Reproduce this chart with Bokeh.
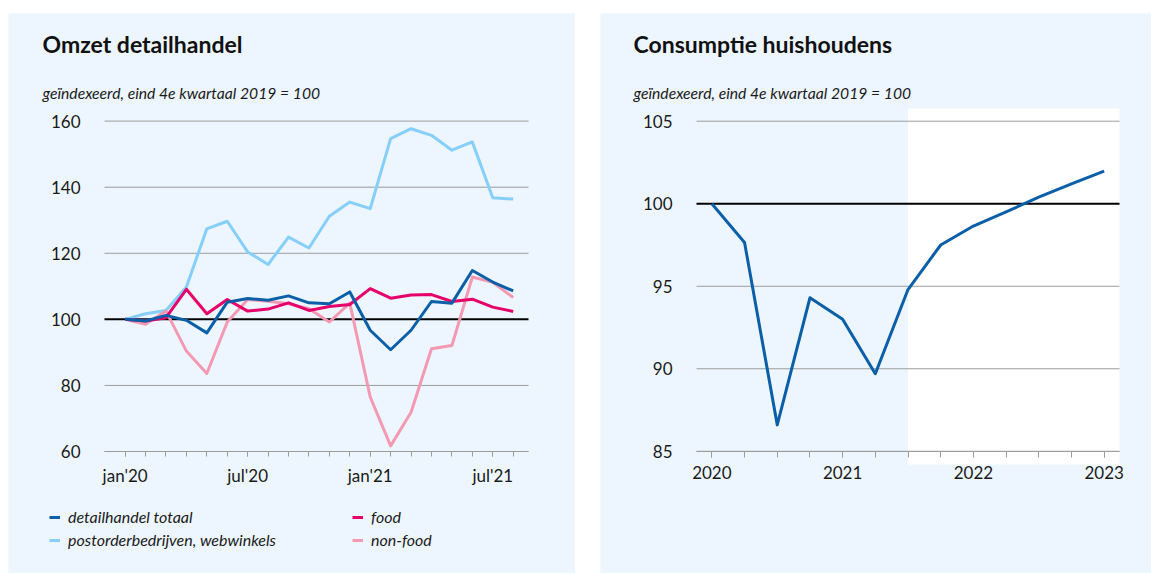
from bokeh.plotting import figure
from bokeh.models import (BoxAnnotation, Label, Legend, LegendItem, LinearAxis,
                          FixedTicker, Range1d)
from bokeh.layouts import row
from bokeh.embed import file_html
from bokeh.resources import INLINE

# ---------------- data: Omzet detailhandel (monthly, jan'20 .. aug'21) ----------------
months = ["jan'20", "feb'20", "mrt'20", "apr'20", "mei'20", "jun'20", "jul'20", "aug'20",
          "sep'20", "okt'20", "nov'20", "dec'20", "jan'21", "feb'21", "mrt'21", "apr'21",
          "mei'21", "jun'21", "jul'21", "aug'21"]
month_tick_labels = {0: "jan'20", 6: "jul'20", 12: "jan'21", 18: "jul'21"}

detailhandel_totaal = [100, 99.5, 101.2, 99.7, 95.9, 105.2, 106.3, 105.8, 107.1, 105.0,
                       104.7, 108.3, 96.7, 90.8, 96.7, 105.4, 104.9, 114.8, 111.3, 108.6]
postorder_webwinkels = [100, 101.7, 102.7, 109.8, 127.4, 129.7, 120.4, 116.6, 124.9, 121.6,
                        131.2, 135.5, 133.5, 154.7, 157.7, 155.7, 151.2, 153.7, 136.8, 136.4]
food = [100, 99.5, 100.5, 109.1, 101.7, 106.0, 102.5, 103.1, 105.0, 102.7,
        103.9, 104.5, 109.3, 106.4, 107.4, 107.5, 105.4, 106.1, 103.7, 102.4]
non_food = [100, 98.5, 102.5, 90.4, 83.6, 99.2, 106.0, 105.5, 104.7, 103.2,
            99.2, 104.9, 76.5, 61.7, 71.9, 91.1, 92.1, 112.8, 111.2, 106.6]
left_y_ticks = [60, 80, 100, 120, 140, 160]

# ---------------- data: Consumptie huishoudens (quarterly, 2020K1 .. 2023K1) ----------------
quarters = ["2020K1", "2020K2", "2020K3", "2020K4", "2021K1", "2021K2", "2021K3",
            "2021K4", "2022K1", "2022K2", "2022K3", "2022K4", "2023K1"]
quarter_tick_labels = {0: "2020", 4: "2021", 8: "2022", 12: "2023"}
consumptie = [100, 97.65, 86.6, 94.3, 93.0, 89.7, 94.8, 97.5, 98.65, 99.5, 100.4, 101.2, 101.97]
forecast_start = 6  # first projected quarter (white background from here)
right_y_ticks = [85, 90, 95, 100, 105]
baseline = 100

# ---------------- styling ----------------
BG = "#EDF6FE"
GRID = "#9C9C9C"
TEXT = "#1A1A1A"
FONT = "Lato"
C_TOT = "#0B5FA8"
C_POST = "#86CFFA"
C_FOOD = "#E5006A"
C_NONF = "#F39AB2"
TICK_FS = "17px"


def make_fig(width, height, xlo, xhi, ylo, yhi, left, right, top, bottom):
    """Figure whose frame is the whole canvas; the plot area (xlo..xhi, ylo..yhi)
    sits `left/right/top/bottom` px from the canvas edges."""
    ppx = (width - left - right) / (xhi - xlo)
    ppy = (height - top - bottom) / (yhi - ylo)
    xr = Range1d(xlo - left / ppx, xhi + right / ppx)
    yr = Range1d(ylo - bottom / ppy, yhi + top / ppy)
    p = figure(width=width, height=height, output_backend="svg", toolbar_location=None,
               x_range=xr, y_range=yr, x_axis_location=None, y_axis_location=None,
               min_border=0, background_fill_color=BG, border_fill_color=BG,
               outline_line_color=None)
    if p.title is not None:
        p.title.visible = False
    p.grid.visible = False
    return p


def add_axes(p, xlo, xhi, ylo, yticks, xmajor, xminor, xlabels, tick_len, standoff):
    ya = LinearAxis(fixed_location=xlo, ticker=FixedTicker(ticks=yticks),
                    axis_line_color=None, major_tick_line_color=None,
                    minor_tick_line_color=None, major_tick_out=0, major_tick_in=0,
                    major_label_standoff=24, major_label_text_font=FONT,
                    major_label_text_font_size=TICK_FS, major_label_text_color=TEXT)
    p.add_layout(ya, "left")
    xa = LinearAxis(fixed_location=ylo, bounds=(xlo, xhi),
                    ticker=FixedTicker(ticks=xmajor, minor_ticks=xminor),
                    major_label_overrides=xlabels,
                    axis_line_color=GRID, axis_line_width=1,
                    major_tick_line_color=GRID, minor_tick_line_color=GRID,
                    major_tick_in=0, minor_tick_in=0,
                    major_tick_out=tick_len, minor_tick_out=tick_len,
                    major_label_standoff=standoff, major_label_text_font=FONT,
                    major_label_text_font_size=TICK_FS, major_label_text_color=TEXT)
    p.add_layout(xa, "below")


def add_gridlines(p, xlo, xhi, yticks):
    grid_y = [t for t in yticks if t != baseline]
    p.segment(x0=xlo, x1=xhi, y0=grid_y, y1=grid_y, line_color=GRID, line_width=1)
    p.segment(x0=xlo, x1=xhi, y0=baseline, y1=baseline, line_color="#000000", line_width=2)


def add_titles(p, x, y_title, y_sub, title):
    p.add_layout(Label(x=x, y=y_title, x_units="screen", y_units="screen", text=title,
                       text_font=FONT, text_font_size="23px", text_font_style="bold",
                       text_color="#111111", text_baseline="middle"))
    p.add_layout(Label(x=x, y=y_sub, x_units="screen", y_units="screen",
                       text="geïndexeerd, eind 4e kwartaal 2019 = 100",
                       text_font=FONT, text_font_size="15.7px", text_font_style="italic",
                       text_color=TEXT, text_baseline="middle"))


def make_legend(items, loc):
    return Legend(items=items, location=loc, orientation="vertical",
                  padding=0, margin=0, border_line_color=None, background_fill_alpha=0,
                  glyph_width=11, glyph_height=18, label_height=18, spacing=4,
                  label_standoff=8, label_text_font=FONT, label_text_font_size="16px",
                  label_text_font_style="italic", label_text_color=TEXT)


# ---------------- left chart ----------------
mx = list(range(len(months)))
LX0, LX1, LY0, LY1 = -1.01, 19.75, 60, 161.7
p1 = make_fig(567, 560, LX0, LX1, LY0, LY1, 96, 47, 102, 122)
p1.margin = (13, 25, 0, 8)
add_gridlines(p1, LX0, LX1, left_y_ticks)
add_axes(p1, LX0, LX1, LY0, left_y_ticks, list(month_tick_labels.keys()), mx,
         month_tick_labels, 5, 8)

r_post = p1.line(mx, postorder_webwinkels, line_color=C_POST, line_width=3, line_join="round")
r_nonf = p1.line(mx, non_food, line_color=C_NONF, line_width=3, line_join="round")
r_food = p1.line(mx, food, line_color=C_FOOD, line_width=3, line_join="round")
r_tot = p1.line(mx, detailhandel_totaal, line_color=C_TOT, line_width=3, line_join="round")

add_titles(p1, 34, 530, 481, "Omzet detailhandel")

p1.add_layout(make_legend([LegendItem(label="detailhandel totaal", renderers=[r_tot]),
                           LegendItem(label="postorderbedrijven, webwinkels", renderers=[r_post])],
                          (41, 24)))
p1.add_layout(make_legend([LegendItem(label="food", renderers=[r_food]),
                           LegendItem(label="non-food", renderers=[r_nonf])],
                          (344, 24)))

# ---------------- right chart ----------------
qx = list(range(len(quarters)))
RX0, RX1, RY0, RY1 = -0.47, 12.47, 84.2, 105.77
p2 = make_fig(551, 560, RX0, RX1, RY0, RY1, 96, 32, 95, 109)
p2.margin = (13, 0, 0, 0)
p2.add_layout(BoxAnnotation(left=forecast_start, right=RX1, bottom=RY0, top=RY1,
                            fill_color="#FFFFFF", fill_alpha=1, line_color=None,
                            level="image"))
add_gridlines(p2, RX0, RX1, right_y_ticks)
add_axes(p2, RX0, RX1, 85, right_y_ticks, list(quarter_tick_labels.keys()), qx,
         quarter_tick_labels, 6, 9)
p2.line(qx, consumptie, line_color=C_TOT, line_width=3, line_join="round")

add_titles(p2, 33, 530, 481, "Consumptie huishoudens")

layout = row(p1, p2)
open("out.html", "w").write(file_html(layout, INLINE))
